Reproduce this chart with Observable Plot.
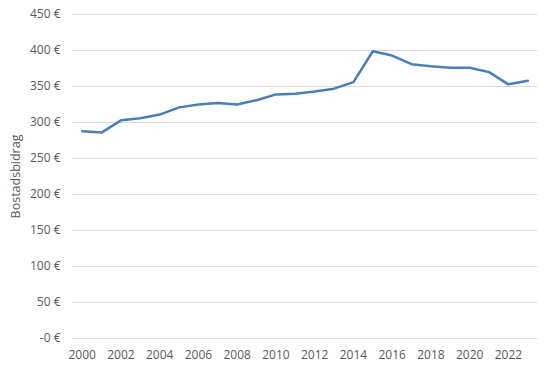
<!DOCTYPE html>
<html>
<head>
<meta charset="utf-8">
<script src="https://cdn.jsdelivr.net/npm/d3@7"></script>
<script src="https://cdn.jsdelivr.net/npm/@observablehq/plot@0.6"></script>
<style>
  html, body { margin: 0; padding: 0; background: #fff; }
  #chart svg { display: block; }
  #chart svg g[aria-label="y-axis label"] text { font-size: 12.5px; }
</style>
</head>
<body>
<div id="chart"></div>
<script>
const years = [2000, 2001, 2002, 2003, 2004, 2005, 2006, 2007, 2008, 2009, 2010, 2011, 2012, 2013, 2014, 2015, 2016, 2017, 2018, 2019, 2020, 2021, 2022, 2023];
const bidrag = [288, 286, 303, 306, 311, 321, 325, 327, 325, 331, 339, 340, 343, 347, 356, 399, 393, 381, 378, 376, 376, 370, 353, 358];
const yTicks = [0, 50, 100, 150, 200, 250, 300, 350, 400, 450];
const xTicks = [2000, 2002, 2004, 2006, 2008, 2010, 2012, 2014, 2016, 2018, 2020, 2022];
const yTitle = "Bostadsbidrag";

const data = years.map((y, i) => ({year: y, value: bidrag[i]}));

const chart = Plot.plot({
  width: 552,
  height: 368,
  marginLeft: 72,
  marginRight: 15,
  marginTop: 14,
  marginBottom: 30,
  style: {fontFamily: "'Open Sans', sans-serif", fontSize: "12px", color: "#595959", background: "#fff"},
  x: {domain: [1999.5, 2023.5]},
  y: {domain: [0, 450]},
  marks: [
    Plot.ruleY(yTicks, {stroke: "#d9d9d9", strokeWidth: 1}),
    Plot.axisY({
      ticks: yTicks, tickSize: 0, tickPadding: 12,
      tickFormat: d => (d === 0 ? "-0" : d) + " \u20ac",
      label: yTitle, labelAnchor: "center", labelArrow: "none", labelOffset: 61,
      fill: "#595959", fontSize: 12
    }),
    Plot.axisX({
      ticks: xTicks, tickSize: 0, tickPadding: 12,
      tickFormat: d => String(d), label: null,
      fill: "#595959", fontSize: 12
    }),
    Plot.line(data, {x: "year", y: "value", stroke: "#4a7ebb", strokeWidth: 2.5, curve: "linear"})
  ]
});
document.getElementById("chart").appendChild(chart);
</script>
</body>
</html>
